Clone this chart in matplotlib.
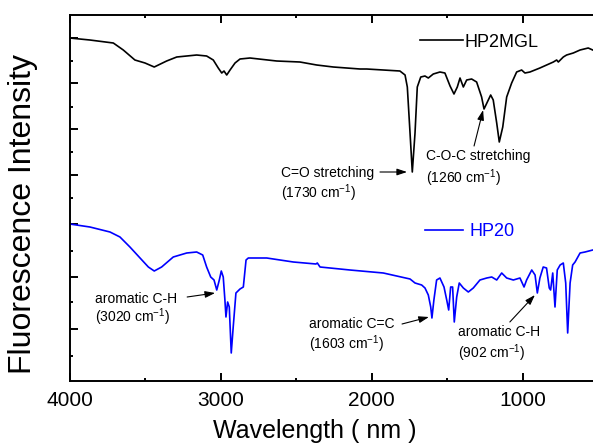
import numpy as np
import matplotlib.pyplot as plt
from matplotlib.ticker import FixedLocator, MultipleLocator

plt.rcParams["font.family"] = ["Liberation Sans", "DejaVu Sans"]
plt.rcParams["mathtext.fontset"] = "custom"
plt.rcParams["mathtext.rm"] = "Liberation Sans"
plt.rcParams["mathtext.default"] = "regular"

# HP2MGL spectrum (wavenumber, intensity a.u.)
wn_hp2mgl = [4000, 3866, 3711, 3645, 3568, 3501, 3440, 3358, 3291, 3159,
             3093, 3049, 3016, 2993, 2978, 2960, 2938, 2905, 2872, 2806,
             2629, 2475, 2364, 2254, 2077, 2033, 1813, 1779, 1764, 1746,
             1731, 1713, 1698, 1675, 1647, 1625, 1592, 1548, 1515, 1481,
             1455, 1433, 1415, 1393, 1371, 1338, 1305, 1272, 1256, 1234,
             1212, 1195, 1172, 1155, 1132, 1106, 1073, 1040, 1007, 985,
             952, 886, 797, 775, 764, 731, 709, 665, 620, 566, 536]
int_hp2mgl = [343, 341, 338, 331, 321, 318, 314, 320, 324, 326,
              325, 321, 313, 308, 310, 306, 311, 318, 322, 323,
              320, 319, 316, 314, 312, 312, 310, 306, 294, 248,
              209, 248, 294, 304, 305, 303, 307, 309, 308, 295,
              287, 294, 303, 294, 301, 302, 299, 284, 272, 279,
              286, 281, 258, 239, 254, 284, 298, 309, 311, 308,
              309, 313, 319, 321, 319, 324, 326, 328, 331, 333, 331]

# HP20 spectrum
wn_hp20 = [4000, 3866, 3733, 3667, 3601, 3534, 3479, 3440, 3391, 3314,
           3225, 3159, 3119, 3093, 3066, 3044, 3026, 3009, 2996, 2983,
           2972, 2965, 2954, 2943, 2930, 2917, 2899, 2872, 2850, 2832,
           2817, 2695, 2519, 2369, 2360, 2342, 2144, 1923, 1746, 1713,
           1669, 1647, 1625, 1609, 1601, 1588, 1570, 1548, 1521, 1503,
           1490, 1477, 1464, 1453, 1437, 1420, 1393, 1360, 1327, 1283,
           1238, 1205, 1172, 1139, 1106, 1062, 1018, 991, 974, 940,
           918, 903, 886, 864, 842, 824, 815, 801, 786, 771,
           752, 731, 715, 702, 686, 669, 653, 620, 587, 536]
int_hp20 = [157, 154, 149, 144, 134, 123, 114, 110, 114, 124,
            128, 129, 126, 114, 104, 101, 91, 101, 110, 104,
            81, 64, 79, 74, 28, 54, 88, 92, 94, 121,
            123, 123, 119, 117, 118, 114, 111, 108, 102, 98,
            96, 93, 86, 74, 63, 81, 101, 103, 94, 81,
            71, 94, 94, 59, 84, 98, 93, 89, 93, 101,
            103, 104, 101, 108, 103, 101, 103, 94, 101, 111,
            106, 88, 103, 114, 113, 93, 91, 108, 74, 111,
            116, 118, 98, 48, 98, 116, 119, 128, 129, 131]

y_major = [52, 104, 157, 206, 252, 298, 343]
y_minor = [25, 79, 130, 183, 229, 274, 320]

fig = plt.figure(figsize=(5.93, 4.44), dpi=100)
ax = fig.add_axes([0.1175, 0.1419, 0.9167, 0.8243])

l1, = ax.plot(wn_hp2mgl, int_hp2mgl, color="black", lw=1.2)
l2, = ax.plot(wn_hp20, int_hp20, color="blue", lw=1.2)

ax.set_xlim(4000, 400)
ax.set_ylim(0, 366)
ax.xaxis.set_major_locator(MultipleLocator(1000))
ax.xaxis.set_minor_locator(MultipleLocator(500))
ax.yaxis.set_major_locator(FixedLocator(y_major))
ax.yaxis.set_minor_locator(FixedLocator(y_minor))
ax.set_yticklabels([])
ax.tick_params(which="both", direction="in", width=1.4, top=True, right=False)
ax.tick_params(which="major", length=5.5, labelsize=15, pad=7.5)
ax.tick_params(which="minor", length=2.5)
for s in ["left", "bottom", "top"]:
    ax.spines[s].set_linewidth(1.4)
ax.spines["right"].set_visible(False)

ax.set_xlabel("Wavelength ( nm )", fontsize=18)
ax.xaxis.set_label_coords(0.451, -0.103)
ax.set_ylabel("Fluorescence Intensity", fontsize=23)
ax.yaxis.set_label_coords(-0.058, 0.455)

leg1 = ax.legend([l1], ["HP2MGL"], loc="center left", bbox_to_anchor=(0.644, 0.926),
                 frameon=False, fontsize=13, handlelength=2.4, handletextpad=0.1,
                 borderpad=0, borderaxespad=0)
ax.add_artist(leg1)
ax.legend([l2], ["HP20"], loc="center left", bbox_to_anchor=(0.654, 0.408),
          frameon=False, fontsize=13, handlelength=2.1, handletextpad=0.35,
          borderpad=0, borderaxespad=0, labelcolor="blue")


def note(x, y1, y2, line1, line2, tail, tip):
    ax.text(x, y1, line1, fontsize=10, ha="left", va="center")
    ax.text(x, y2, line2, fontsize=10, ha="left", va="center")
    ax.annotate("", xy=tip, xytext=tail,
                arrowprops=dict(arrowstyle="-|>,head_length=0.6,head_width=0.2",
                                color="black", lw=0.8, shrinkA=0, shrinkB=0))


note(2601, 208, 188, "C=O stretching", "(1730 cm$^{-1}$)", (1945, 209), (1766, 209))
note(1640, 225, 203, "C-O-C stretching", "(1260 cm$^{-1}$)", (1322, 235), (1262, 271))
note(3832, 82, 64, "aromatic C-H", "(3020 cm$^{-1}$)", (3222, 84), (3037, 88))
note(2415, 57, 37, "aromatic C=C", "(1603 cm$^{-1}$)", (1799, 57), (1621, 64))
note(1429, 49, 28, "aromatic C-H", "(902 cm$^{-1}$)", (1085, 59), (919, 86))

fig.savefig("out.png", dpi=100)
